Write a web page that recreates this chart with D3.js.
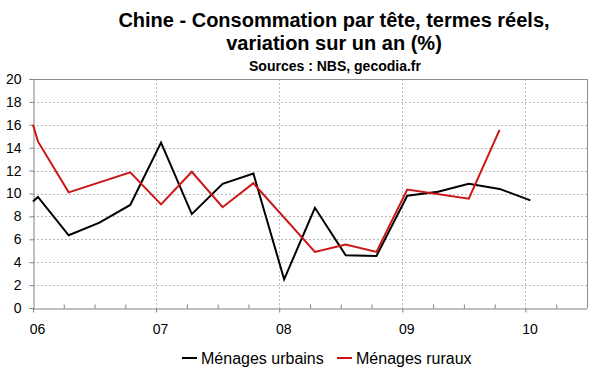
<!DOCTYPE html>
<html>
<head>
<meta charset="utf-8">
<script src="https://cdn.jsdelivr.net/npm/d3@7"></script>
<style>
  body { margin: 0; background: #fff; }
  text { font-family: "Liberation Sans", Arial, sans-serif; }
</style>
</head>
<body>
<div id="chart"></div>
<script>
// Quarterly observations (fractional years)
const periods = [2006.00, 2006.04, 2006.29, 2006.54, 2006.79, 2007.04, 2007.29, 2007.54, 2007.79,
  2008.04, 2008.29, 2008.54, 2008.79, 2009.04, 2009.29, 2009.54, 2009.79, 2010.04];
const urbains = [9.3, 9.7, 6.35, 7.45, 9.0, 14.45, 8.2, 10.85, 11.75,
  2.5, 8.75, 4.6, 4.55, 9.8, 10.15, 10.85, 10.4, 9.4];
const ruraux = [16.0, 14.55, 10.1, null, 11.85, 9.05, 11.9, 8.8, 10.9,
  null, 4.9, 5.55, 4.9, 10.35, null, 9.55, 15.55, null];
const years = [2006, 2007, 2008, 2009, 2010];
const yearLabels = ["06", "07", "08", "09", "10"];
const yTicks = [0, 2, 4, 6, 8, 10, 12, 14, 16, 18, 20];
const seriesNames = ["Ménages urbains", "Ménages ruraux"];

const width = 600;
const height = 372;
const margin = { top: 79, right: 13, bottom: 63, left: 33 };
const innerW = width - margin.left - margin.right;
const innerH = height - margin.top - margin.bottom - 1;

const svg = d3.select("#chart").append("svg")
  .attr("width", width)
  .attr("height", height);

// Titles
svg.append("text").attr("x", 334).attr("y", 27).attr("text-anchor", "middle")
  .style("font-size", "20px").style("font-weight", "bold")
  .text("Chine - Consommation par tête, termes réels,");
svg.append("text").attr("x", 334).attr("y", 50).attr("text-anchor", "middle")
  .style("font-size", "20px").style("font-weight", "bold")
  .text("variation sur un an (%)");
svg.append("text").attr("x", 335).attr("y", 71).attr("text-anchor", "middle")
  .style("font-size", "14px").style("font-weight", "bold")
  .text("Sources : NBS, gecodia.fr");

const g = svg.append("g")
  .attr("transform", `translate(${margin.left},${margin.top})`);

const x = d3.scaleLinear().domain([2006, 2010.5]).range([0, innerW]);
const y = d3.scaleLinear().domain([0, 20]).range([innerH, 0]);

// Grid lines
g.selectAll(".hgrid").data(yTicks.filter(d => d > 0 && d < 20)).enter()
  .append("line")
  .attr("x1", 0).attr("x2", innerW)
  .attr("y1", d => Math.round(y(d)) + 0.5).attr("y2", d => Math.round(y(d)) + 0.5)
  .attr("stroke", "#b8b8b8").attr("stroke-dasharray", "2,2");
g.selectAll(".vgrid").data(years.filter(d => d > 2006)).enter()
  .append("line")
  .attr("x1", d => Math.round(x(d)) + 0.5).attr("x2", d => Math.round(x(d)) + 0.5)
  .attr("y1", 0).attr("y2", innerH)
  .attr("stroke", "#b8b8b8").attr("stroke-dasharray", "2,2");

// Frame (top and right)
g.append("path")
  .attr("d", `M0.5,0.5H${innerW + 0.5}V${innerH}`)
  .attr("fill", "none").attr("stroke", "#8c8c8c");

// Y axis
const yAxis = g.append("g")
  .attr("transform", "translate(0.5,0)")
  .call(d3.axisLeft(y).tickValues(yTicks).tickSize(4).tickPadding(8).tickFormat(d3.format("d")));
yAxis.select(".domain").attr("stroke", "#808080");
yAxis.selectAll(".tick line").attr("stroke", "#808080");
yAxis.selectAll("text").style("font-size", "14px").attr("fill", "#000");

// X axis: minor quarterly ticks pointing inward
const quarters = d3.range(2006.25, 2010.5, 0.25).filter(q => q % 1 !== 0);
const xMinor = g.append("g")
  .attr("transform", `translate(0,${innerH + 0.5})`)
  .call(d3.axisBottom(x).tickValues(quarters).tickSizeInner(-4).tickSizeOuter(0).tickFormat(""));
xMinor.select(".domain").remove();
xMinor.selectAll(".tick line").attr("stroke", "#808080");

const xAxis = g.append("g")
  .attr("transform", `translate(0,${innerH + 0.5})`)
  .call(d3.axisBottom(x).tickValues(years).tickSize(4).tickSizeOuter(0)
    .tickFormat((d, i) => yearLabels[i]));
xAxis.select(".domain").attr("stroke", "#808080");
xAxis.selectAll(".tick line").attr("stroke", "#808080");
xAxis.selectAll("text").style("font-size", "14px").attr("fill", "#000")
  .attr("y", 16).attr("dx", 4);

// Lines
const colors = ["#000000", "#cc1515"];
const seriesValues = [urbains, ruraux];
const line = d3.line().x(d => x(d.t)).y(d => y(d.v));
seriesValues.forEach((vals, i) => {
  const pts = periods.map((t, j) => ({ t: t, v: vals[j] })).filter(d => d.v !== null);
  g.append("path")
    .datum(pts)
    .attr("d", line)
    .attr("fill", "none")
    .attr("stroke", colors[i])
    .attr("stroke-width", 2)
    .attr("stroke-linejoin", "miter");
});

// Legend
const legendX = [182, 337];
seriesNames.forEach((name, i) => {
  svg.append("line")
    .attr("x1", legendX[i]).attr("x2", legendX[i] + 15)
    .attr("y1", 358).attr("y2", 358)
    .attr("stroke", colors[i]).attr("stroke-width", 2);
  svg.append("text")
    .attr("x", legendX[i] + 19).attr("y", 363.5)
    .style("font-size", "16px")
    .text(name);
});
</script>
</body>
</html>
